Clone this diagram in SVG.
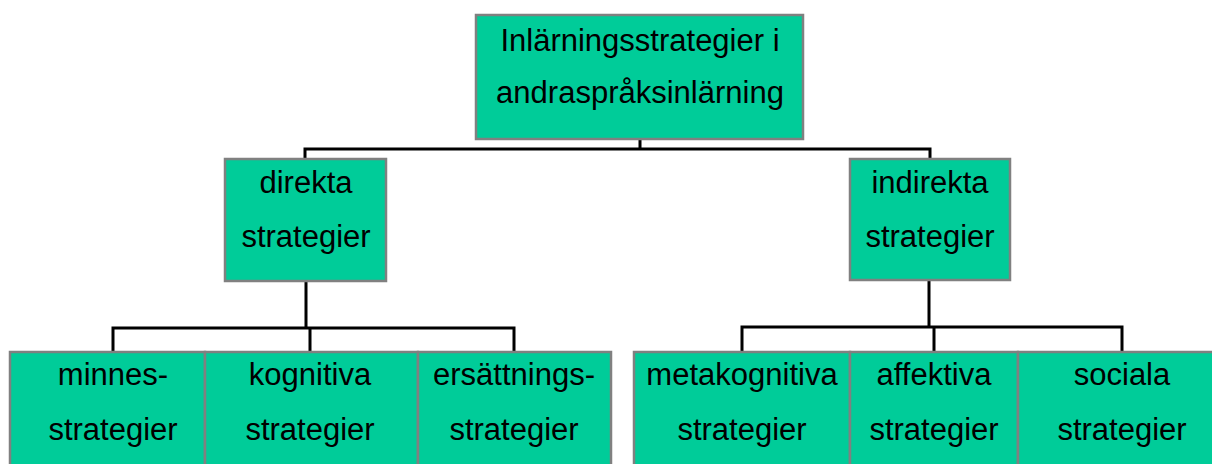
<svg xmlns="http://www.w3.org/2000/svg" width="1212" height="464" viewBox="0 0 1212 464">
<style>
.box{fill:#00CC99;stroke:#808080;stroke-width:2.5}
.lbl{font-family:"Liberation Sans",Arial,sans-serif;font-size:31px;fill:#000;text-anchor:middle}
.con{fill:none;stroke:#000;stroke-width:3}
</style>
<rect width="1212" height="464" fill="#fff"/>
<g id="connectors">
<path class="con" d="M640,139V149M305,159V149H930V159"/>
<path class="con" d="M306,281V328M113,352V328H514V352M310,328V352"/>
<path class="con" d="M929,280V327M742,352V327H1122V352M934,327V352"/>
</g>
<g id="root">
<rect class="box" x="476" y="15" width="327" height="124"/>
<text class="lbl" x="640" y="51">Inlärningsstrategier i</text>
<text class="lbl" x="640" y="103">andraspråksinlärning</text>
</g>
<g id="direkta">
<rect class="box" x="225" y="159" width="161" height="122"/>
<text class="lbl" x="306" y="193">direkta</text>
<text class="lbl" x="306" y="247">strategier</text>
</g>
<g id="indirekta">
<rect class="box" x="850" y="159" width="160" height="121"/>
<text class="lbl" x="930" y="193">indirekta</text>
<text class="lbl" x="930" y="247">strategier</text>
</g>
<g id="minnes">
<rect class="box" x="10" y="352" width="195" height="120"/>
<text class="lbl" x="113" y="385">minnes-</text>
<text class="lbl" x="113" y="440">strategier</text>
</g>
<g id="kognitiva">
<rect class="box" x="205" y="352" width="213" height="120"/>
<text class="lbl" x="310" y="385">kognitiva</text>
<text class="lbl" x="310" y="440">strategier</text>
</g>
<g id="ersattnings">
<rect class="box" x="418" y="352" width="193" height="120"/>
<text class="lbl" x="514" y="385">ersättnings-</text>
<text class="lbl" x="514" y="440">strategier</text>
</g>
<g id="metakognitiva">
<rect class="box" x="634" y="352" width="216" height="120"/>
<text class="lbl" x="742" y="385">metakognitiva</text>
<text class="lbl" x="742" y="440">strategier</text>
</g>
<g id="affektiva">
<rect class="box" x="850" y="352" width="168" height="120"/>
<text class="lbl" x="934" y="385">affektiva</text>
<text class="lbl" x="934" y="440">strategier</text>
</g>
<g id="sociala">
<rect class="box" x="1018" y="352" width="200" height="120"/>
<text class="lbl" x="1122" y="385">sociala</text>
<text class="lbl" x="1122" y="440">strategier</text>
</g>
</svg>
